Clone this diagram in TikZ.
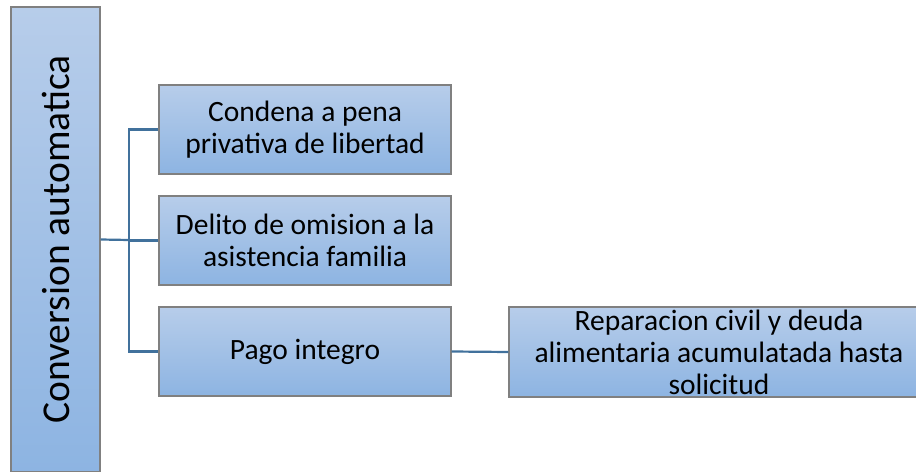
\documentclass[tikz,border=0pt]{standalone}
\usepackage{fontspec}
\setmainfont{Carlito}
\usepackage{tikz}
\usetikzlibrary{arrows,arrows.meta,calc,positioning,shapes}

\definecolor{boxtop}{RGB}{183,205,234}
\definecolor{boxbot}{RGB}{141,180,226}
\definecolor{boxline}{RGB}{128,128,128}
\definecolor{linkblue}{RGB}{65,113,156}

\tikzset{
  shade box/.style={draw=boxline,line width=1.2bp,top color=boxtop,bottom color=boxbot,inner sep=0pt},
  box/.style={shade box,align=center,font=\fontsize{29.5bp}{32bp}\selectfont},
  link/.style={draw=linkblue,line width=2.2bp}
}

\begin{document}
\begin{tikzpicture}[x=1bp,y=-1bp]
            \useasboundingbox (0,0) rectangle (916,472);
            \clip (0,0) rectangle (916,472);
            \node[shade box,minimum width=89bp,minimum height=465bp] (L) at (55.5,239.5)
                {\rotatebox{90}{\fontsize{39.5bp}{42bp}\selectfont Conversion automatica}};
            \node[box,minimum width=292bp,minimum height=89bp] (A) at (305,129.5) {Condena a pena\\privativa de libertad};
            \node[box,minimum width=292bp,minimum height=89bp] (B) at (305,240.5) {Delito de omision a la\\asistencia familia};
            \node[box,minimum width=292bp,minimum height=89bp] (C) at (305,351.5) {Pago integro};
            \node[box,minimum width=420bp,minimum height=90bp,inner ysep=-6bp] (D) at (719,352) {Reparacion civil y deuda\\alimentaria acumulatada hasta\\solicitud};
            \coordinate (J) at (129,240);
            \draw[link] (L.east) -- (J);
            \draw[link] (A.west) -- (A.west -| J) -- (C.west -| J) -- (C.west);
            \draw[link] (B.west) -- (B.west -| J);
            \draw[link] (C.east) -- (D.west);
        \end{tikzpicture}
\end{document}
